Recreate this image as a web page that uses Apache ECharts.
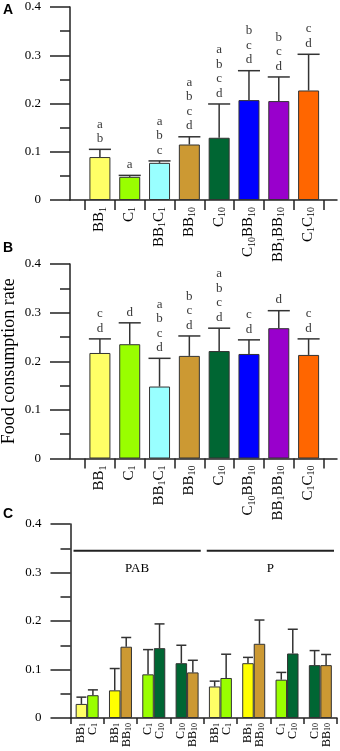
<!DOCTYPE html>
<html><head><meta charset="utf-8">
<script src="https://cdn.jsdelivr.net/npm/echarts@6/dist/echarts.min.js"></script>
<style>html,body{margin:0;padding:0;background:#fff}#c{width:340px;height:751px}</style>
</head><body><div id="c"></div>
<script>
// ---------- data ----------
const categoriesAB = ['BB₁','C₁','BB₁C₁','BB₁₀','C₁₀','C₁₀BB₁₀','BB₁BB₁₀','C₁C₁₀'];
const valuesA = [0.089, 0.048, 0.077, 0.115, 0.129, 0.207, 0.205, 0.227];
const errorsA = [0.016, 0.003, 0.004, 0.016, 0.070, 0.061, 0.050, 0.075];
const lettersA = ['ab','a','abc','abcd','abcd','bcd','bcd','cd'];

const valuesB = [0.217, 0.235, 0.148, 0.211, 0.221, 0.215, 0.268, 0.213];
const errorsB = [0.029, 0.044, 0.058, 0.041, 0.047, 0.029, 0.036, 0.033];
const lettersB = ['cd','d','abcd','bcd','abcd','cd','d','cd'];

const pairsC = [['BB₁','C₁'],['BB₁','BB₁₀'],['C₁','C₁₀'],['C₁₀','BB₁₀'],
                ['BB₁','C₁'],['BB₁','BB₁₀'],['C₁','C₁₀'],['C₁₀','BB₁₀']];
const valuesC1 = [0.029, 0.057, 0.090, 0.113, 0.065, 0.113, 0.079, 0.109];
const errorsC1 = [0.014, 0.045, 0.051, 0.037, 0.011, 0.012, 0.015, 0.030];
const valuesC2 = [0.047, 0.147, 0.144, 0.094, 0.0825, 0.153, 0.133, 0.109];
const errorsC2 = [0.011, 0.019, 0.050, 0.025, 0.049, 0.049, 0.050, 0.022];
const groupNamesC = ['PAB','P'];
const groupSpansC = [[0,3],[4,7]];
const groupLevelC = 0.345;

const yTicks = [0, 0.1, 0.2, 0.3, 0.4];

// ---------- styles ----------
const colorsAB = ['#FFFF66','#99FF00','#99FFFF','#CC9933','#006633','#0000FF','#9900CC','#FF6600'];
const colorsC1 = ['#FFFF66','#FFFF00','#99FF00','#006633','#FFFF66','#FFFF00','#99FF00','#006633'];
const colorsC2 = ['#99FF00','#CC9933','#006633','#CC9933','#99FF00','#CC9933','#006633','#CC9933'];
const SERIF = 'Liberation Serif';
const AX = '#222';

function toRich(name){
  return name.replace(/([\u2080-\u2089]+)|([^\u2080-\u2089]+)/g, function(m, sub, main){
    if (sub) return '{s|' + Array.from(sub).map(c => String.fromCharCode(c.charCodeAt(0) - 0x2080 + 48)).join('') + '}';
    return '{n|' + main + '}';
  });
}

function yAxisVisible(gridIndex, extra){
  return Object.assign({
    type:'value', gridIndex: gridIndex, min: yTicks[0], max: yTicks[yTicks.length-1],
    interval: yTicks[1]-yTicks[0],
    axisLine:{show:true, onZero:false, lineStyle:{color:AX, width:1.5}},
    axisTick:{show:true, length:20, lineStyle:{color:AX, width:1.5}},
    minorTick:{show:true, splitNumber:2, length:10, lineStyle:{color:AX, width:1.5}},
    axisLabel:{margin:29, color:'#000', fontFamily:SERIF, fontSize:13,
      formatter: v => String(Math.round(v*10)/10)},
    splitLine:{show:false}
  }, extra || {});
}
function yAxisHidden(gridIndex){
  return {type:'value', gridIndex: gridIndex, min: yTicks[0], max: yTicks[yTicks.length-1], show:false};
}
function xLine(gridIndex){
  return {type:'value', gridIndex:gridIndex, min:0, max:1,
    axisLine:{show:true, onZero:false, lineStyle:{color:AX, width:1.5}},
    axisTick:{show:false}, axisLabel:{show:false}, splitLine:{show:false}};
}
function xCats(gridIndex, data, opts){
  return {type:'category', gridIndex:gridIndex, data:data,
    axisLine:{show:opts.line, onZero:false, lineStyle:{color:AX, width:1.5}},
    axisTick:{show:true, length:opts.tick, lineStyle:{color:AX, width:1.5}},
    axisLabel:{interval:0, rotate:90, margin:opts.margin, color:'#000',
      formatter: opts.formatter,
      rich: opts.rich},
    splitLine:{show:false}};
}
const richAB = {
  n:{fontFamily:SERIF, fontSize:15, lineHeight:15, verticalAlign:'top', color:'#000'},
  s:{fontFamily:SERIF, fontSize:10, padding:[6,0,0,0], verticalAlign:'bottom', color:'#000'}
};
const richC = {
  n:{fontFamily:SERIF, fontSize:12, lineHeight:10, verticalAlign:'top', color:'#000'},
  s:{fontFamily:SERIF, fontSize:8, padding:[4,0,0,0], verticalAlign:'bottom', color:'#000'}
};

function errRender(offsetFrac, capFrac){
  return function(params, api){
    const i = api.value(0);
    const base = api.coord([i, api.value(1)]);
    const top = api.coord([i, api.value(2)]);
    const bw = api.size([1, 0])[0];
    const x = base[0] + offsetFrac*bw;
    const half = capFrac*bw/2;
    const st = {stroke:'#333', lineWidth:1.5};
    return {type:'group', children:[
      {type:'line', shape:{x1:x, y1:base[1], x2:x, y2:top[1]}, style:st},
      {type:'line', shape:{x1:x-half, y1:top[1], x2:x+half, y2:top[1]}, style:st}
    ]};
  };
}

function barSeries(xi, yi, vals, colors, extra){
  return Object.assign({type:'bar', xAxisIndex:xi, yAxisIndex:yi, z:2,
    data: vals.map((v,i)=>({value:v, itemStyle:{color:colors[i]}})),
    itemStyle:{borderColor:'#333', borderWidth:1}, silent:true, animation:false}, extra);
}
function errSeries(xi, yi, vals, errs, off, cap){
  return {type:'custom', xAxisIndex:xi, yAxisIndex:yi, z:3, silent:true, animation:false,
    renderItem: errRender(off, cap),
    data: vals.map((v,i)=>[i, v, v+errs[i]])};
}
function letterSeries(xi, yi, vals, errs, letters){
  return {type:'scatter', xAxisIndex:xi, yAxisIndex:yi, z:4, symbolSize:1, silent:true, animation:false,
    itemStyle:{color:'rgba(0,0,0,0)'},
    label:{show:true, position:'top', distance:3, color:'#000', fontFamily:SERIF, fontSize:13, lineHeight:14.5,
      formatter: p => letters[p.dataIndex].split('').join('\n')},
    data: vals.map((v,i)=>[i, v+errs[i]])};
}

const chart = echarts.init(document.getElementById('c'), null, {renderer:'canvas'});
const titleStyle = {fontFamily:'Liberation Sans', fontWeight:'bold', fontSize:14, color:'#000'};
const option = {
  animation:false,
  backgroundColor:'#fff',
  title:[
    {text:'A', left:3, top:3, padding:0, textStyle:titleStyle},
    {text:'B', left:3, top:241, padding:0, textStyle:titleStyle},
    {text:'C', left:3, top:507, padding:0, textStyle:titleStyle}
  ],
  grid:[
    {left:70, right:3, top:7, height:193, outerBoundsMode:'none'},
    {left:85, right:16.5, top:7, height:193, outerBoundsMode:'none'},
    {left:70, right:3, top:264, height:194.5, outerBoundsMode:'none'},
    {left:85, right:16.5, top:264, height:194.5, outerBoundsMode:'none'},
    {left:70.5, right:3, top:524, height:194, outerBoundsMode:'none'}
  ],
  xAxis:[
    xLine(0),
    xCats(1, categoriesAB, {line:false, tick:10, margin:7, rich:richAB, formatter: v => toRich(v)}),
    xLine(2),
    xCats(3, categoriesAB, {line:false, tick:10, margin:7, rich:richAB, formatter: v => toRich(v)}),
    xCats(4, pairsC.map(p => p.join('|')), {line:true, tick:6, margin:5, rich:richC,
      formatter: v => v.split('|').map(toRich).join('\n')})
  ],
  yAxis:[
    yAxisVisible(0),
    yAxisHidden(1),
    yAxisVisible(2, {name:'Food consumption rate', nameLocation:'middle', nameRotate:90, nameGap:52,
      nameMoveOverlap:false,
      nameTextStyle:{fontFamily:SERIF, fontSize:18, color:'#000'}}),
    yAxisHidden(3),
    yAxisVisible(4)
  ],
  series:[
    barSeries(1, 1, valuesA, colorsAB, {barWidth:21}),
    errSeries(1, 1, valuesA, errorsA, 0, 0.74),
    letterSeries(1, 1, valuesA, errorsA, lettersA),
    barSeries(3, 3, valuesB, colorsAB, {barWidth:21}),
    errSeries(3, 3, valuesB, errorsB, 0, 0.74),
    letterSeries(3, 3, valuesB, errorsB, lettersB),
    barSeries(4, 4, valuesC1, colorsC1, {barWidth:'34.5%', barGap:'0%'}),
    barSeries(4, 4, valuesC2, colorsC2, {barWidth:'34.5%', barGap:'0%'}),
    errSeries(4, 4, valuesC1, errorsC1, -0.1725, 0.3),
    errSeries(4, 4, valuesC2, errorsC2, 0.1725, 0.3),
    {type:'custom', xAxisIndex:4, yAxisIndex:4, z:3, silent:true, animation:false,
      data: groupSpansC.map(s => [s[0], s[1], groupLevelC]),
      renderItem: function(params, api){
        const a = api.coord([api.value(0), api.value(2)]);
        const b = api.coord([api.value(1), api.value(2)]);
        const bw = api.size([1,0])[0];
        const x1 = a[0] - bw/2 + 3, x2 = b[0] + bw/2 - 3;
        return {type:'group', children:[
          {type:'line', shape:{x1:x1, y1:a[1], x2:x2, y2:a[1]}, style:{stroke:'#222', lineWidth:2}},
          {type:'text', style:{text: groupNamesC[params.dataIndex], x:(x1+x2)/2, y:a[1]+18,
            align:'center', verticalAlign:'middle', fontFamily:SERIF, fontSize:13, fill:'#000'}}
        ]};
      }}
  ]
};
chart.setOption(option);
</script></body></html>
